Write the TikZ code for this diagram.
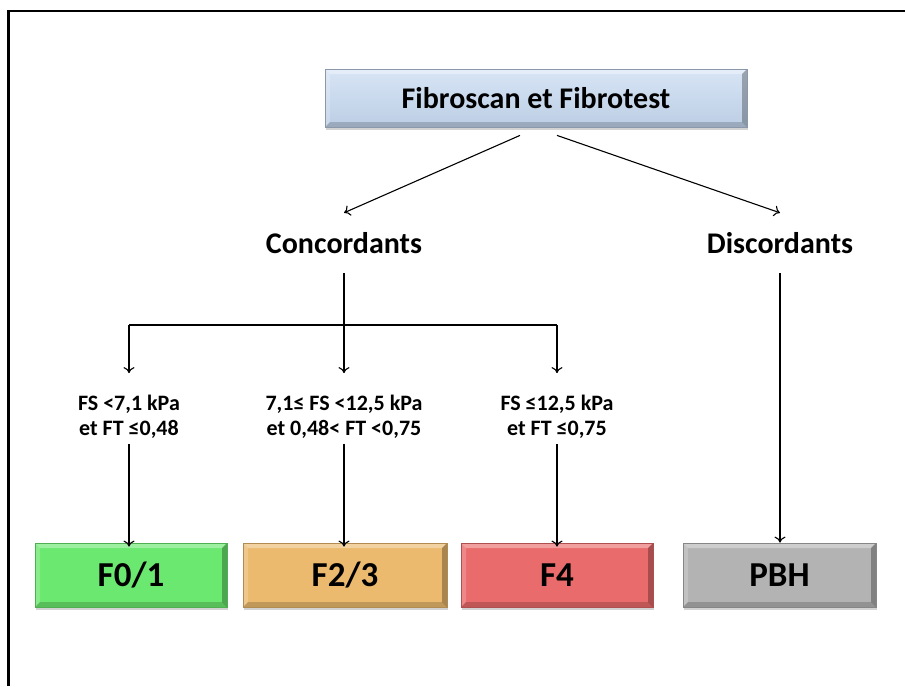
\documentclass[tikz,border=0pt]{standalone}
\usepackage{fontspec}
\setmainfont{Carlito}
\usetikzlibrary{shadows,arrows.meta}
\definecolor{topblue}{HTML}{C6D9F1}
\definecolor{greenbox}{HTML}{6BE86F}
\definecolor{orangebox}{HTML}{EBBA6E}
\definecolor{redbox}{HTML}{EA6B6B}
\definecolor{graybox}{HTML}{B3B3B3}
\tikzset{
  bevel/.style={
    path picture={
      \fill[white,opacity=0.35] (path picture bounding box.north west) -- (path picture bounding box.north east) -- ([shift={(-5pt,-5pt)}]path picture bounding box.north east) -- ([shift={(5pt,-5pt)}]path picture bounding box.north west) -- cycle;
      \fill[white,opacity=0.2] (path picture bounding box.north west) -- ([shift={(5pt,-5pt)}]path picture bounding box.north west) -- ([shift={(5pt,5pt)}]path picture bounding box.south west) -- (path picture bounding box.south west) -- cycle;
      \fill[black,opacity=0.18] (path picture bounding box.south west) -- (path picture bounding box.south east) -- ([shift={(-5pt,5pt)}]path picture bounding box.south east) -- ([shift={(5pt,5pt)}]path picture bounding box.south west) -- cycle;
      \fill[black,opacity=0.28] (path picture bounding box.north east) -- ([shift={(-5pt,-5pt)}]path picture bounding box.north east) -- ([shift={(-5pt,5pt)}]path picture bounding box.south east) -- (path picture bounding box.south east) -- cycle;
    }},
  box/.style={draw=#1!75!black, line width=0.8pt, fill=#1, bevel, minimum height=64pt,
    drop shadow={shadow xshift=1pt, shadow yshift=-3pt, opacity=0.35},
    font=\bfseries\fontsize{35}{40}\selectfont, inner sep=0pt},
  headtext/.style={font=\bfseries\fontsize{30}{34}\selectfont, minimum height=60pt, inner sep=0pt},
  condtext/.style={font=\bfseries\fontsize{22}{25}\selectfont, align=center, inner sep=1pt},
  conn/.style={line width=1.1pt, draw=black},
  arr/.style={conn, -{To[length=6pt,width=11pt]}},
  frameline/.style={line width=2.4pt}
}
\begin{document}
\begin{tikzpicture}[x=1pt,y=-1pt]
\useasboundingbox (0,0) rectangle (905,686);
% frame
\coordinate (fbl) at (8.5,686);
\coordinate (ftl) at (8.5,11);
\coordinate (ftr) at (905,11);
\draw[frameline] (fbl) -- (ftl) -- (ftr);
% top box
\node[draw=topblue!70!black, line width=0.8pt, top color=topblue!70!white, bottom color=topblue!95!black, bevel,
  drop shadow={shadow xshift=1pt, shadow yshift=-3pt, opacity=0.35},
  minimum width=422pt, minimum height=58pt, inner sep=0pt,
  font=\bfseries\fontsize{30}{34}\selectfont] (top) at (536,98) {Fibroscan et Fibrotest};
% level 2
\node[headtext] (conc) at (344,243) {Concordants};
\node[headtext] (disc) at (780,243) {Discordants};
% conditions
\node[condtext] (lab1) at (129,417) {FS <7,1 kPa\\et FT ≤0,48};
\node[condtext] (lab2) at (344,417) {7,1≤ FS <12,5 kPa\\et 0,48< FT <0,75};
\node[condtext] (lab3) at (557,417) {FS ≤12,5 kPa\\et FT ≤0,75};
% result boxes
\node[box=greenbox, minimum width=192pt] (f01) at (131,575) {F0/1};
\node[box=orangebox, minimum width=204pt] (f23) at (345,575) {F2/3};
\node[box=redbox, minimum width=192pt] (f4) at (557,575) {F4};
\node[box=graybox, minimum width=193pt] (pbh) at (779.5,575) {PBH};
% connectors
\draw[arr] ([xshift=-16pt,yshift=-8pt]top.south) -- (conc.north);
\draw[arr] ([xshift=21pt,yshift=-8pt]top.south) -- (disc.north);
\coordinate (j) at (344,325);
\coordinate (jl) at (129,325);
\coordinate (jr) at (557,325);
\draw[conn] (conc.south) -- (j);
\draw[conn] (jl) -- (jr);
\draw[arr] (jl) -- ([yshift=21pt]lab1.north);
\draw[arr] (j) -- ([yshift=21pt]lab2.north);
\draw[arr] (jr) -- ([yshift=21pt]lab3.north);
\draw[arr] ([yshift=-4pt]lab1.south) -- ([yshift=-4pt]lab1.south |- f01.north);
\draw[arr] ([yshift=-4pt]lab2.south) -- ([yshift=-4pt]lab2.south |- f23.north);
\draw[arr] ([yshift=-4pt]lab3.south) -- ([yshift=-4pt]lab3.south |- f4.north);
\draw[arr] (disc.south) -- (disc.south |- pbh.north);
\end{tikzpicture}
\end{document}
